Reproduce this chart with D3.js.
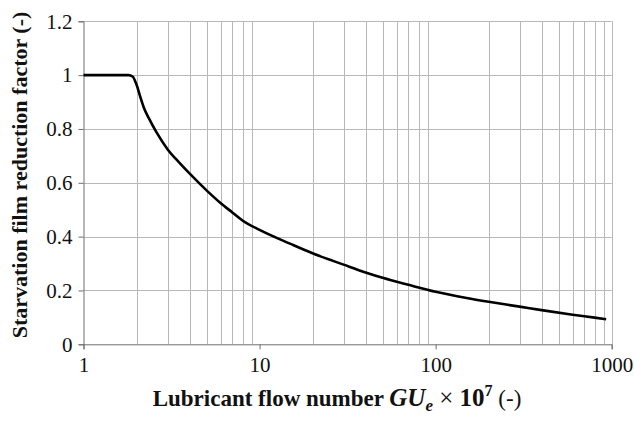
<!DOCTYPE html>
<html>
<head>
<meta charset="utf-8">
<script src="https://cdn.jsdelivr.net/npm/d3@7"></script>
<style>
  html, body { margin: 0; padding: 0; background: #fff; }
  svg { display: block; }
  .serif { font-family: "Liberation Serif", "Times New Roman", serif; }
</style>
</head>
<body>
<svg id="chart" width="634" height="421"></svg>
<script>
const flowNumber = [1, 1.5, 1.8, 1.9, 2.0, 2.1, 2.2, 2.35, 2.6, 3, 3.5, 4, 5, 6, 7, 8, 10, 15, 20, 30, 40, 50, 70, 100, 150, 200, 300, 400, 600, 800, 930];
const reductionFactor = [1.0, 1.0, 1.0, 0.995, 0.965, 0.92, 0.88, 0.84, 0.787, 0.725, 0.675, 0.635, 0.572, 0.525, 0.49, 0.46, 0.425, 0.373, 0.338, 0.296, 0.267, 0.247, 0.221, 0.195, 0.172, 0.158, 0.14, 0.127, 0.11, 0.099, 0.093];
const xMajorTicks = [1, 10, 100, 1000];
const yTicks = [0, 0.2, 0.4, 0.6, 0.8, 1, 1.2];
const yTickLabels = ["0", "0.2", "0.4", "0.6", "0.8", "1", "1.2"];

const svg = d3.select("#chart");
const mLeft = 83.5, mRight = 611.7, mTop = 21.3, mBottom = 344.3;

const x = d3.scaleLog().domain([1, 1000]).range([mLeft, mRight]);
const y = d3.scaleLinear().domain([0, 1.2]).range([mBottom, mTop]);

// minor vertical gridlines
const minorTicks = [];
for (let d = 1; d < 1000; d *= 10) for (let k = 2; k <= 9; k++) minorTicks.push(d * k);

const grid = svg.append("g");
grid.selectAll("line.v").data(minorTicks.concat([1000])).join("line")
  .attr("x1", d => Math.round(x(d)) + 0.5).attr("x2", d => Math.round(x(d)) + 0.5)
  .attr("y1", mTop).attr("y2", mBottom)
  .attr("stroke", "#b8b8b8").attr("stroke-width", 1);
grid.selectAll("line.h").data(yTicks.filter(v => v > 0)).join("line")
  .attr("x1", mLeft).attr("x2", mRight)
  .attr("y1", d => Math.round(y(d)) + 0.5).attr("y2", d => Math.round(y(d)) + 0.5)
  .attr("stroke", "#b8b8b8").attr("stroke-width", 1);

// Y axis
const yAxis = d3.axisLeft(y).tickValues(yTicks).tickFormat((d, i) => yTickLabels[i]).tickSize(5).tickPadding(6);
const gy = svg.append("g").attr("transform", `translate(${mLeft},0)`).call(yAxis);
gy.attr("font-family", null).attr("font-size", null).attr("class", "serif");
gy.select(".domain").attr("stroke", "#6e6e6e");
gy.selectAll(".tick line").attr("stroke", "#6e6e6e");
gy.selectAll(".tick text").style("font-family", "'Liberation Serif', 'Times New Roman', serif")
  .style("font-size", "21px").attr("fill", "#111");

// X axis
const xAxis = d3.axisBottom(x).tickValues(xMajorTicks).tickFormat(d3.format("d")).tickSize(5).tickPadding(8);
const gx = svg.append("g").attr("transform", `translate(0,${mBottom})`).call(xAxis);
gx.attr("font-family", null).attr("font-size", null).attr("class", "serif");
gx.select(".domain").attr("stroke", "#6e6e6e");
gx.selectAll(".tick line").attr("stroke", "#6e6e6e");
gx.selectAll(".tick text").style("font-family", "'Liberation Serif', 'Times New Roman', serif")
  .style("font-size", "21px").attr("fill", "#111");

// Curve
const line = d3.line().x((d, i) => x(flowNumber[i])).y(d => y(d)).curve(d3.curveMonotoneX);
svg.append("path").datum(reductionFactor)
  .attr("d", line).attr("fill", "none").attr("stroke", "#000").attr("stroke-width", 2.6);

// Y label
svg.append("text")
  .attr("class", "serif")
  .attr("transform", `translate(27,175) rotate(-90)`)
  .attr("text-anchor", "middle")
  .style("font-weight", "bold").style("font-size", "22px").attr("fill", "#111")
  .text("Starvation film reduction factor (-)");

// X label
const xl = svg.append("text")
  .attr("class", "serif")
  .attr("x", 337).attr("y", 406)
  .attr("text-anchor", "middle")
  .style("font-weight", "bold").style("font-size", "23px").attr("fill", "#111");
xl.append("tspan").text("Lubricant flow number ");
xl.append("tspan").style("font-style", "italic").style("font-size", "25px").text("GU");
xl.append("tspan").style("font-style", "italic").style("font-size", "17px").attr("dy", 5).text("e");
xl.append("tspan").attr("dy", -5).style("font-weight", "normal").style("font-size", "25px").text(" × ");
xl.append("tspan").style("font-size", "25px").text("10");
xl.append("tspan").style("font-size", "16px").attr("dy", -10).text("7");
xl.append("tspan").attr("dy", 10).style("font-weight", "normal").text(" (-)");
</script>
</body>
</html>
